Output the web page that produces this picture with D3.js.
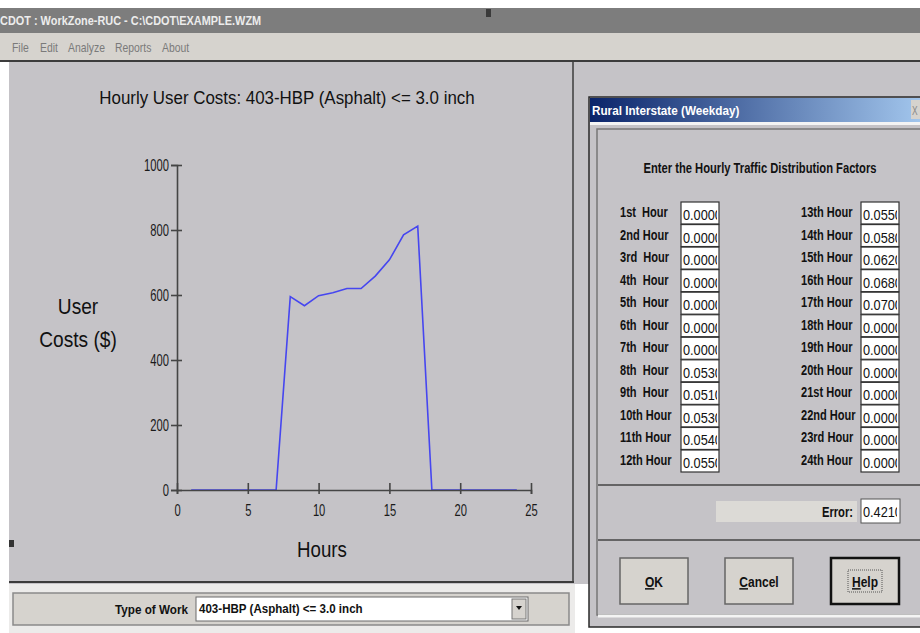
<!DOCTYPE html>
<html lang="en">
<head>
  <meta charset="utf-8">
  <title>WorkZone-RUC</title>
  <script src="https://d3js.org/d3.v7.min.js"></script>
  <style>
    body { margin: 0; background: #fff; }
    svg { display: block; font-family: "Liberation Sans", Arial, sans-serif; }
    text { white-space: pre; }
  </style>
</head>
<body>
  <div id="chart"></div>
  <script>
    // chart data
    var hours = [1, 2, 3, 4, 5, 6, 7, 8, 9, 10, 11, 12, 13, 14, 15, 16, 17, 18, 19, 20, 21, 22, 23, 24];
    var userCosts = [0, 0, 0, 0, 0, 0, 0, 595, 567, 598, 607, 620, 620, 658, 708, 785, 812, 0, 0, 0, 0, 0, 0, 0];
    var yTicks = [0, 200, 400, 600, 800, 1000];
    var xTicks = [0, 5, 10, 15, 20, 25];

    // dialog contents
    var hourLabels = ['1st  Hour', '2nd Hour', '3rd  Hour', '4th  Hour', '5th  Hour', '6th  Hour',
      '7th  Hour', '8th  Hour', '9th  Hour', '10th Hour', '11th Hour', '12th Hour',
      '13th Hour', '14th Hour', '15th Hour', '16th Hour', '17th Hour', '18th Hour',
      '19th Hour', '20th Hour', '21st Hour', '22nd Hour', '23rd Hour', '24th Hour'];
    var factors = ['0.0000', '0.0000', '0.0000', '0.0000', '0.0000', '0.0000', '0.0000', '0.0530',
      '0.0510', '0.0530', '0.0540', '0.0550', '0.0550', '0.0580', '0.0620', '0.0680', '0.0700',
      '0.0000', '0.0000', '0.0000', '0.0000', '0.0000', '0.0000', '0.0000'];
    var errorValue = '0.4210';
    var menuItems = ['File', 'Edit', 'Analyze', 'Reports', 'About'];

    var W = 920, H = 633;
    var bg = '#c5c3c7', face = '#d6d3ce';

    var svg = d3.select('#chart').append('svg')
      .attr('width', W).attr('height', H);

    // narrow text: the screenshot uses a condensed UI font, so squeeze horizontally
    function ntext(parent, x, y, str, size, sx, opts) {
      opts = opts || {};
      var t = parent.append('text')
        .attr('transform', 'translate(' + [x, y] + ') scale(' + sx + ',1)')
        .attr('fill', opts.fill || '#111')
        .attr('text-anchor', opts.anchor || 'start')
        .style('font-size', size + 'px')
        .style('font-weight', opts.bold ? 'bold' : 'normal')
        .text(str);
      return t;
    }

    var defs = svg.append('defs');
    var grad = defs.append('linearGradient').attr('id', 'titlegrad');
    grad.append('stop').attr('offset', '0%').attr('stop-color', '#0a246a');
    grad.append('stop').attr('offset', '100%').attr('stop-color', '#a6caf0');
    defs.append('clipPath').attr('id', 'boxclip')
      .append('rect').attr('x', 0).attr('y', 0).attr('width', 36).attr('height', 22);

    // ---- window frame ----
    svg.append('rect').attr('width', W).attr('height', H).attr('fill', '#fff');
    svg.append('rect').attr('x', 9).attr('y', 62).attr('width', W - 9).attr('height', 522).attr('fill', bg);
    svg.append('rect').attr('x', 0).attr('y', 8).attr('width', W).attr('height', 25).attr('fill', '#7d7d7d');
    ntext(svg, 0, 25, 'CDOT : WorkZone-RUC - C:\\CDOT\\EXAMPLE.WZM', 13, 0.84, {bold: true, fill: '#ececec'});
    svg.append('rect').attr('x', 486).attr('y', 9).attr('width', 5).attr('height', 8).attr('fill', '#3a3a3a');
    svg.append('rect').attr('x', 0).attr('y', 33).attr('width', W).attr('height', 27).attr('fill', '#d6d3ce');
    svg.append('rect').attr('x', 0).attr('y', 60).attr('width', W).attr('height', 2).attr('fill', '#3c3c3c');

    var mx = [12, 40, 68, 115, 162];
    menuItems.forEach(function(d, i) {
      ntext(svg, mx[i], 52, d, 13, 0.8, {fill: '#7a7a7a'});
    });

    // chart panel border
    svg.append('line').attr('x1', 573).attr('x2', 573).attr('y1', 62).attr('y2', 582)
      .attr('stroke', '#3c3c3c').attr('stroke-width', 1.5);
    svg.append('line').attr('x1', 9).attr('x2', 574).attr('y1', 582).attr('y2', 582)
      .attr('stroke', '#3c3c3c').attr('stroke-width', 2);
    svg.append('rect').attr('x', 9).attr('y', 540).attr('width', 5).attr('height', 7).attr('fill', '#333');

    // ---- chart ----
    var x = d3.scaleLinear().domain([0, 25]).range([177, 531]);
    var y = d3.scaleLinear().domain([0, 1000]).range([490, 165]);

    var g = svg.append('g');
    ntext(g, 287, 104, 'Hourly User Costs: 403-HBP (Asphalt) <= 3.0 inch', 19, 0.89, {anchor: 'middle'});

    var line = d3.line()
      .x(function(d, i) { return x(hours[i]); })
      .y(function(d) { return y(d); });
    g.append('path').datum(userCosts)
      .attr('d', line)
      .attr('fill', 'none')
      .attr('stroke', '#4646f0')
      .attr('stroke-width', 1.6);

    var yAxis = g.append('g')
      .attr('transform', 'translate(177,0)')
      .call(d3.axisLeft(y).tickValues(yTicks).tickSizeOuter(0).tickSize(6).tickFormat(d3.format('d')));
    yAxis.selectAll('.tick line').attr('x1', -6).attr('x2', 5);
    yAxis.selectAll('.tick text')
      .attr('x', -8 / 0.7).attr('dy', null).attr('y', 5)
      .attr('transform', 'scale(0.7,1)');
    var xAxis = g.append('g')
      .attr('transform', 'translate(0,490)')
      .call(d3.axisBottom(x).tickValues(xTicks).tickSizeOuter(0).tickSize(4));
    xAxis.selectAll('.tick line').attr('y1', -7).attr('y2', 4);
    xAxis.selectAll('.tick text')
      .attr('y', 26).attr('dy', null)
      .attr('transform', 'scale(0.7,1)');
    g.selectAll('.domain, .tick line').attr('stroke', '#454545').attr('stroke-width', 1.6);
    g.selectAll('.tick text').attr('fill', '#1a1a1a')
      .style('font-family', '"Liberation Sans", Arial, sans-serif')
      .style('font-size', '16px');

    ntext(g, 78, 314, 'User', 22, 0.87, {anchor: 'middle'});
    ntext(g, 78, 347, 'Costs ($)', 22, 0.87, {anchor: 'middle'});
    ntext(g, 322, 557, 'Hours', 22, 0.85, {anchor: 'middle'});

    // ---- bottom panel ----
    svg.append('rect').attr('x', 9).attr('y', 584).attr('width', 566).attr('height', 49).attr('fill', '#ecebea');
    svg.append('rect').attr('x', 13).attr('y', 593).attr('width', 556).attr('height', 32)
      .attr('fill', face).attr('stroke', '#8a8a8a').attr('stroke-width', 1.5);
    ntext(svg, 188, 614, 'Type of Work', 13, 0.9, {anchor: 'end', bold: true});
    svg.append('rect').attr('x', 196).attr('y', 597).attr('width', 332).attr('height', 24)
      .attr('fill', '#fff').attr('stroke', '#6a6a6a');
    ntext(svg, 199, 613, '403-HBP (Asphalt) <= 3.0 inch', 13, 0.89, {bold: true});
    svg.append('rect').attr('x', 512).attr('y', 599).attr('width', 14).attr('height', 20)
      .attr('fill', face).attr('stroke', '#777');
    svg.append('path').attr('d', 'M516,606 L522,606 L519,610 Z').attr('fill', '#111');

    // ---- dialog ----
    var dlg = svg.append('g');
    dlg.append('rect').attr('x', 589).attr('y', 97).attr('width', 340).attr('height', 530)
      .attr('fill', bg).attr('stroke', '#2a2a2a').attr('stroke-width', 1.5);
    dlg.append('rect').attr('x', 590).attr('y', 98).attr('width', 340).attr('height', 24).attr('fill', 'url(#titlegrad)');
    ntext(dlg, 592, 115, 'Rural Interstate (Weekday)', 13, 0.9, {bold: true, fill: '#fff'});
    dlg.append('rect').attr('x', 911).attr('y', 100).attr('width', 12).attr('height', 19).attr('fill', face);
    ntext(dlg, 912, 115, 'X', 12, 0.7, {fill: '#888'});
    dlg.append('rect').attr('x', 590).attr('y', 122).attr('width', 340).attr('height', 3).attr('fill', '#f4f4f4');
    // inner raised panel
    dlg.append('rect').attr('x', 597).attr('y', 129).attr('width', 330).attr('height', 486)
      .attr('fill', 'none').attr('stroke', '#777').attr('stroke-width', 1.5);
    dlg.append('line').attr('x1', 598).attr('x2', 920).attr('y1', 616).attr('y2', 616)
      .attr('stroke', '#f4f4f4').attr('stroke-width', 3);
    dlg.append('line').attr('x1', 598).attr('x2', 920).attr('y1', 485).attr('y2', 485)
      .attr('stroke', '#444').attr('stroke-width', 1.5);
    dlg.append('line').attr('x1', 598).attr('x2', 920).attr('y1', 540).attr('y2', 540)
      .attr('stroke', '#444').attr('stroke-width', 1.5);

    ntext(dlg, 760, 173, 'Enter the Hourly Traffic Distribution Factors', 14, 0.8, {anchor: 'middle', bold: true});

    var rowY = d3.scaleLinear().domain([0, 11]).range([202, 450]);
    var rows = dlg.selectAll('.row').data(factors).enter().append('g')
      .attr('class', 'row')
      .attr('transform', function(d, i) {
        var col = i < 12 ? 0 : 1;
        return 'translate(' + [col ? 801 : 620, rowY(i % 12)] + ')';
      });
    rows.each(function(d, i) {
      ntext(d3.select(this), 0, 15, hourLabels[i], 14, 0.79, {bold: true});
    });
    var box = rows.append('g')
      .attr('transform', function(d, i) { return 'translate(' + (i < 12 ? 61 : 60) + ',0)'; });
    box.append('rect').attr('width', 38).attr('height', 22)
      .attr('fill', '#fff').attr('stroke', '#333').attr('stroke-width', 1.2);
    box.each(function(d) {
      ntext(d3.select(this).append('g').attr('clip-path', 'url(#boxclip)'), 2, 18, d, 15, 0.85);
    });

    // error field
    dlg.append('rect').attr('x', 716).attr('y', 501).attr('width', 141).attr('height', 21).attr('fill', '#dcdad6');
    ntext(dlg, 853, 517, 'Error:', 14, 0.8, {anchor: 'end', bold: true});
    var eb = dlg.append('g').attr('transform', 'translate(861,499)');
    eb.append('rect').attr('width', 39).attr('height', 24).attr('fill', '#fff').attr('stroke', '#555');
    ntext(eb.append('g').attr('clip-path', 'url(#boxclip)'), 2, 18, errorValue, 15, 0.85);

    // buttons
    var buttons = [{k: 'O', t: 'K', x: 620}, {k: 'C', t: 'ancel', x: 725}, {k: 'H', t: 'elp', x: 831}];
    var btn = dlg.selectAll('.btn').data(buttons).enter().append('g')
      .attr('class', 'btn')
      .attr('transform', function(d) { return 'translate(' + d.x + ',558)'; });
    btn.append('rect').attr('width', 68).attr('height', 46).attr('fill', face)
      .attr('stroke', function(d) { return d.k === 'H' ? '#111' : '#666'; })
      .attr('stroke-width', function(d) { return d.k === 'H' ? 2.5 : 1.5; });
    btn.filter(function(d) { return d.k === 'H'; }).append('rect')
      .attr('x', 17).attr('y', 12).attr('width', 34).attr('height', 22)
      .attr('fill', 'none').attr('stroke', '#555').attr('stroke-dasharray', '1,1');
    btn.each(function(d) {
      var t = ntext(d3.select(this), 34, 29, '', 15, 0.8, {anchor: 'middle', bold: true});
      t.append('tspan').style('text-decoration', 'underline').text(d.k);
      t.append('tspan').text(d.t);
    });
  </script>
</body>
</html>
